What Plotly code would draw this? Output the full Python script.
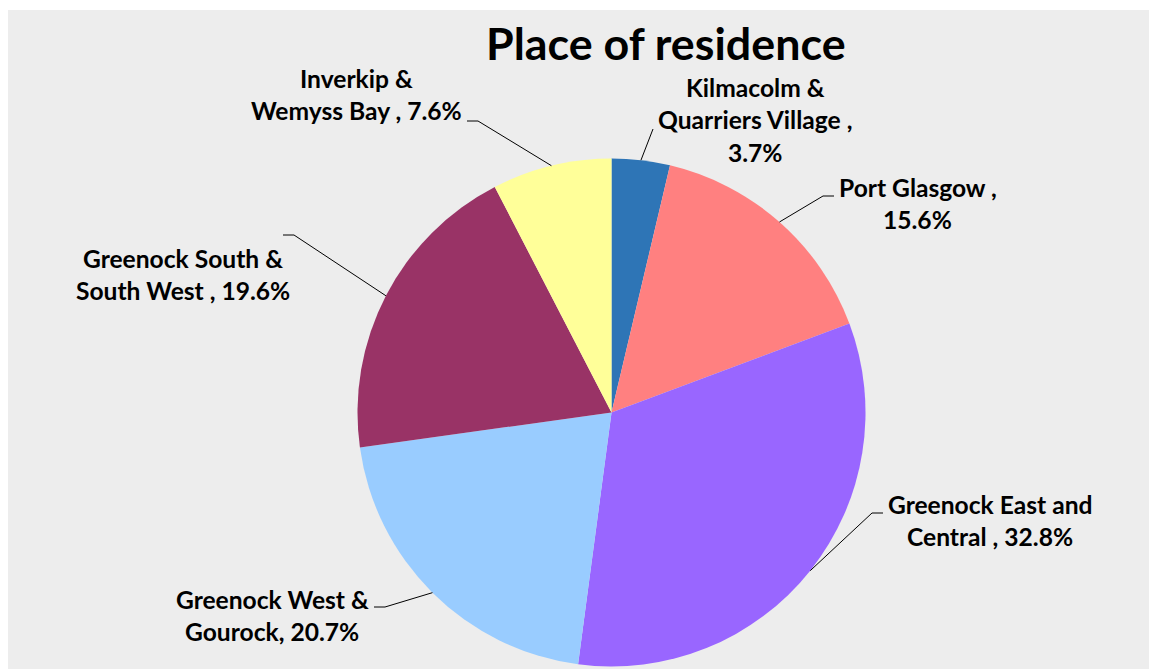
import math
import plotly.graph_objects as go

# ---------------- data ----------------
categories = [
    "Kilmacolm & Quarriers Village",
    "Port Glasgow",
    "Greenock East and Central",
    "Greenock West & Gourock",
    "Greenock South & South West",
    "Inverkip & Wemyss Bay",
]
values = [3.7, 15.6, 32.8, 20.7, 19.6, 7.6]
colors = ["#2E75B6", "#FF8080", "#9966FF", "#99CCFF", "#993366", "#FFFF99"]
label_lines = [
    ["Kilmacolm &", "Quarriers Village ,", "3.7%"],
    ["Port Glasgow ,", "15.6%"],
    ["Greenock East and", "Central , 32.8%"],
    ["Greenock West &", "Gourock, 20.7%"],
    ["Greenock South &", "South West , 19.6%"],
    ["Inverkip &", "Wemyss Bay , 7.6%"],
]
title_text = "Place of residence"

# ---------------- layout (pixels) ----------------
W, H = 1149, 669
ML, MT = 8, 10
PW, PH = W - ML, H - MT
CX, CY, R = 611.5, 412.5, 254.0

# label centre x, first-line baseline y
label_pos = [(755, 97), (918, 197), (990, 514), (272, 609), (183, 268), (356, 88)]
# elbow point and end of horizontal tick (towards text)
elbows = [
    ((653, 129), None),
    ((823, 196), (834, 196)),
    ((872, 513), (883, 513)),
    ((385, 607), (374, 607)),
    ((294, 235), (283, 235)),
    ((478, 121), (467, 121)),
]
FONT = "Lato"
FS = 24.6
TFS = 44.8
LINE_GAP = 32.5


def px(x):
    return (x - ML) / PW


def py(y):
    return (H - y) / PH


fig = go.Figure()
fig.add_trace(
    go.Pie(
        labels=categories,
        values=values,
        sort=False,
        direction="clockwise",
        rotation=0,
        marker=dict(colors=colors, line=dict(width=0)),
        textinfo="none",
        hoverinfo="label+percent",
        showlegend=False,
        domain=dict(x=[px(CX - R), px(CX + R)], y=[py(CY + R), py(CY - R)]),
    )
)

shapes = [
    dict(type="rect", xref="paper", yref="paper", x0=0, x1=1, y0=0, y1=1,
         fillcolor="#EDEDED", line=dict(width=0), layer="below")
]
annotations = []

total = sum(values)
cum = 0.0
for i, v in enumerate(values):
    mid = (cum + v / 2) / total * 2 * math.pi
    cum += v
    ex = CX + R * math.sin(mid)
    ey = CY - R * math.cos(mid)
    (bx, by), hend = elbows[i]
    shapes.append(dict(type="line", xref="paper", yref="paper",
                       x0=px(ex), y0=py(ey), x1=px(bx), y1=py(by),
                       line=dict(color="black", width=1)))
    if hend is not None:
        shapes.append(dict(type="line", xref="paper", yref="paper",
                           x0=px(bx), y0=py(by), x1=px(hend[0]), y1=py(hend[1]),
                           line=dict(color="black", width=1)))
    lx, ly = label_pos[i]
    for j, line in enumerate(label_lines[i]):
        base = ly + j * LINE_GAP
        annotations.append(dict(
            x=px(lx), y=py(base - 0.39 * FS), xref="paper", yref="paper",
            text="<b>%s</b>" % line, showarrow=False,
            xanchor="center", yanchor="middle",
            font=dict(family=FONT, size=FS, color="black"),
        ))

annotations.append(dict(
    x=px(666), y=py(60 - 0.39 * TFS), xref="paper", yref="paper",
    text="<b>%s</b>" % title_text, showarrow=False,
    xanchor="center", yanchor="middle",
    font=dict(family=FONT, size=TFS, color="black"),
))

fig.update_layout(
    width=W, height=H,
    margin=dict(l=ML, r=0, t=MT, b=0),
    paper_bgcolor="white",
    shapes=shapes,
    annotations=annotations,
)

fig.write_html(
    "out.html",
    config={"displayModeBar": False},
    post_script="document.body.style.margin='0';document.body.style.overflow='hidden';",
)
